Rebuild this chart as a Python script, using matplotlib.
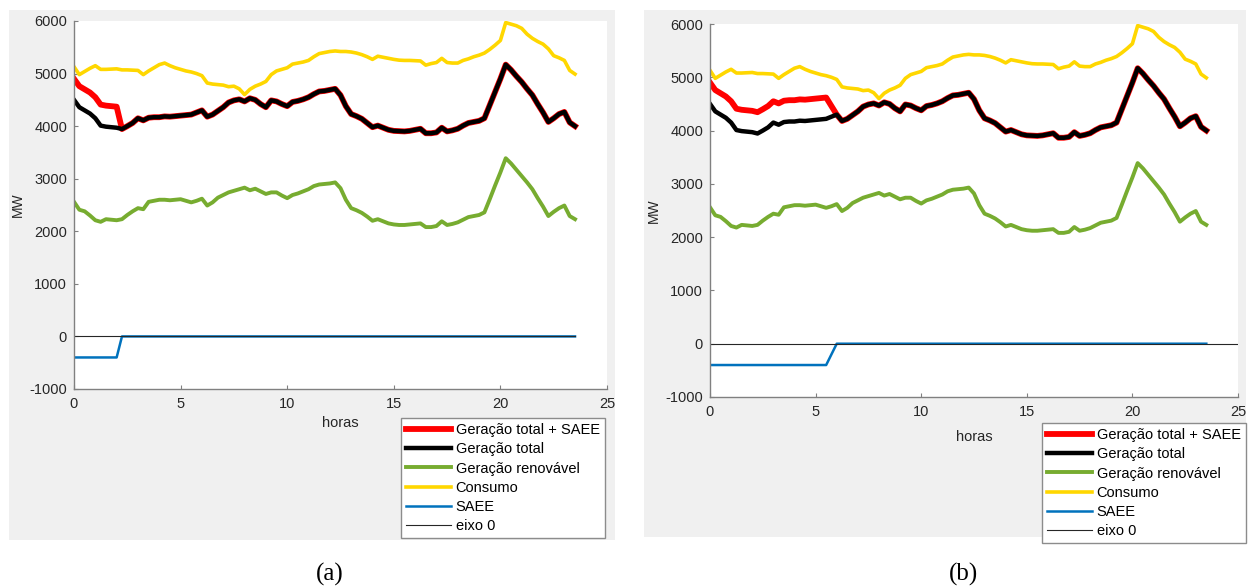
import numpy as np
import matplotlib
matplotlib.use('Agg')
import matplotlib.pyplot as plt
from matplotlib.patches import Rectangle

plt.rcParams['font.family'] = ['Liberation Sans', 'DejaVu Sans']
plt.rcParams['axes.unicode_minus'] = False

# 15 min steps, 0h .. 23.5h
hours = np.arange(0, 23.75, 0.25)

consumo = [5130, 4980, 5040, 5100,   5150, 5080, 5080, 5085,
           5090, 5070, 5070, 5065,   5060, 4980, 5050, 5110,
           5170, 5200, 5150, 5110,   5080, 5050, 5030, 5000,
           4960, 4820, 4800, 4790,   4780, 4750, 4760, 4710,
           4600, 4700, 4760, 4800,   4850, 4980, 5050, 5080,
           5110, 5180, 5200, 5220,   5250, 5320, 5380, 5400,
           5420, 5430, 5420, 5420,   5410, 5390, 5360, 5320,
           5270, 5330, 5310, 5290,   5270, 5255, 5250, 5250,
           5245, 5240, 5160, 5190,   5210, 5290, 5210, 5200,
           5200, 5250, 5280, 5320,   5350, 5390, 5460, 5540,
           5630, 5970, 5940, 5910,   5860, 5750, 5670, 5610,
           5560, 5470, 5340, 5300,   5250, 5060, 4990]

geracao_total = [4500, 4360, 4300, 4240,   4150, 4010, 3990, 3980,
                 3970, 3945, 4000, 4060,   4150, 4110, 4160, 4170,
                 4170, 4185, 4180, 4190,   4200, 4210, 4220, 4260,
                 4300, 4180, 4220, 4290,   4360, 4450, 4490, 4510,
                 4470, 4530, 4500, 4420,   4360, 4490, 4470, 4420,
                 4380, 4460, 4480, 4510,   4550, 4610, 4660, 4670,
                 4690, 4710, 4590, 4380,   4230, 4190, 4140, 4060,
                 3980, 4010, 3970, 3930,   3910, 3905, 3900, 3910,
                 3930, 3950, 3865, 3865,   3880, 3970, 3900, 3920,
                 3950, 4010, 4060, 4080,   4100, 4150, 4400, 4650,
                 4900, 5170, 5070, 4950,   4840, 4710, 4590, 4420,
                 4260, 4080, 4150, 4230,   4270, 4070, 4000]

geracao_renovavel = [2560, 2410, 2380, 2300,   2210, 2180, 2230, 2220,
                     2210, 2230, 2310, 2380,   2440, 2420, 2560, 2580,
                     2600, 2600, 2590, 2600,   2610, 2580, 2550, 2580,
                     2620, 2490, 2550, 2640,   2690, 2740, 2770, 2800,
                     2830, 2780, 2810, 2760,   2710, 2740, 2740, 2680,
                     2630, 2690, 2720, 2760,   2800, 2860, 2890, 2900,
                     2910, 2930, 2820, 2600,   2440, 2400, 2350, 2280,
                     2200, 2230, 2190, 2150,   2130, 2120, 2120, 2130,
                     2140, 2150, 2080, 2080,   2100, 2190, 2120, 2140,
                     2170, 2220, 2270, 2290,   2310, 2360, 2610, 2870,
                     3120, 3390, 3290, 3170,   3050, 2930, 2800, 2630,
                     2470, 2290, 2370, 2440,   2490, 2290, 2230]

# armazenamento (SAEE): carga de -400 MW no inicio do dia
saee_a = [-400] * 9 + [0] * 86
saee_b = [-400] * 23 + [-200] + [0] * 71

eixo_fim_a = 23.5
eixo_fim_b = 25

W, H = 1250, 586


def px_rect(x0, y0, x1, y1):
    return [x0 / W, 1 - y1 / H, (x1 - x0) / W, (y1 - y0) / H]


def painel(fig, rect, saee, eixo_fim, leg_xy, xlabel_y, ylabel_x):
    ax = fig.add_axes(rect)
    total = np.array(geracao_total)
    ax.plot(hours, total - np.array(saee), color='#ff0000', lw=4.2,
            label='Geração total + SAEE')
    ax.plot(hours, total, color='black', lw=3.2, label='Geração total')
    ax.plot(hours, geracao_renovavel, color='#77ac30', lw=2.8,
            label='Geração renovável')
    ax.plot(hours, consumo, color='#ffd700', lw=2.6, label='Consumo')
    ax.plot(hours, saee, color='#0072bd', lw=1.8, label='SAEE')
    ax.plot([0, eixo_fim], [0, 0], color='#262626', lw=0.8, label='eixo 0')

    ax.set_xlim(0, 25)
    ax.set_ylim(-1000, 6000)
    ax.set_xticks(range(0, 26, 5))
    ax.set_yticks(range(-1000, 6001, 1000))
    ax.set_facecolor('white')
    for s in ['top', 'right']:
        ax.spines[s].set_visible(False)
    for s in ['left', 'bottom']:
        ax.spines[s].set_color('#808080')
        ax.spines[s].set_linewidth(1.0)
    ax.tick_params(direction='in', length=3, width=0.8, color='#808080',
                   labelsize=10.5, labelcolor='#262626')
    ax.tick_params(axis='x', pad=6)
    ax.tick_params(axis='y', pad=5)
    ax.set_xlabel('horas', fontsize=10.5, color='#262626')
    ax.set_ylabel('MW', fontsize=10, color='#262626')
    ax.xaxis.set_label_coords(0.5, xlabel_y)
    ax.yaxis.set_label_coords(ylabel_x, 0.5)

    leg = ax.legend(loc='upper left', bbox_to_anchor=(leg_xy[0] / W, 1 - leg_xy[1] / H),
                    bbox_transform=fig.transFigure, fontsize=10.5, fancybox=False,
                    framealpha=1, edgecolor='#8c8c8c', handlelength=3.1,
                    handletextpad=0.3, labelspacing=0.36, borderpad=0.35,
                    borderaxespad=0)
    leg.get_frame().set_linewidth(1.0)
    return ax


fig = plt.figure(figsize=(W / 100, H / 100), dpi=100)
fig.patch.set_facecolor('white')

# fundos cinzentos de cada figura
for x0, y0, x1, y1 in [(9, 10, 615, 540), (644, 10, 1246, 537)]:
    r = px_rect(x0, y0, x1, y1)
    fig.add_artist(Rectangle((r[0], r[1]), r[2], r[3], transform=fig.transFigure,
                             facecolor='#f0f0f0', edgecolor='none', zorder=-1))

painel(fig, px_rect(74, 21, 607, 389), saee_a, eixo_fim_a, (401, 418), -0.073, -0.092)
painel(fig, px_rect(710, 24, 1238, 397), saee_b, eixo_fim_b, (1042, 423), -0.088, -0.093)

fig.text(330 / W, 1 - 574 / H, '(a)', family='Liberation Serif', fontsize=18,
         ha='center', va='center')
fig.text(963 / W, 1 - 574 / H, '(b)', family='Liberation Serif', fontsize=18,
         ha='center', va='center')

fig.savefig('out.png', dpi=100)
